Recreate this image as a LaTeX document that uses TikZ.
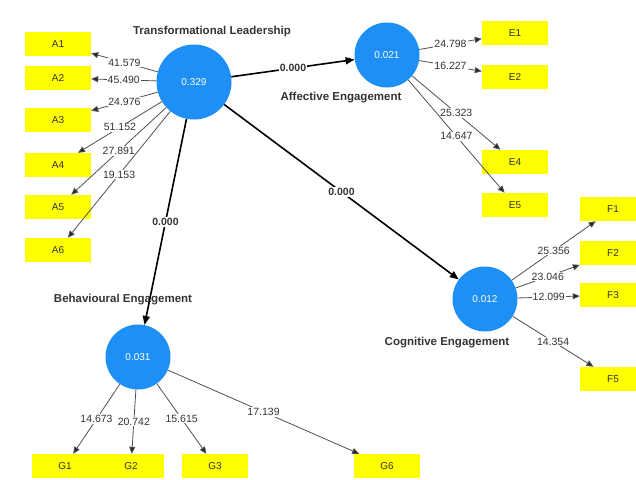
\documentclass[tikz,border=0pt]{standalone}
\usepackage{fontspec}
\setmainfont{Liberation Sans}
\usetikzlibrary{arrows.meta}
\definecolor{PlsBlue}{HTML}{1E8FF5}
\definecolor{PlsYellow}{HTML}{FFFF00}
\definecolor{PlsText}{HTML}{333333}
\definecolor{PlsLine}{HTML}{505050}
\tikzset{
  latent/.style={circle, fill=PlsBlue, minimum size=65pt, inner sep=0pt,
    text=white, font=\fontsize{10}{12}\selectfont},
  indicator/.style={rectangle, fill=PlsYellow, minimum width=66pt,
    minimum height=24pt, inner sep=0pt, text=PlsText,
    font=\fontsize{10}{12}\selectfont},
  lvname/.style={text=PlsText, font=\bfseries\fontsize{11.5}{14}\selectfont},
  weight/.style={fill=white, inner sep=1pt, text=PlsText,
    font=\fontsize{10.5}{12}\selectfont},
  structpath/.style={draw=black, line width=1.6pt,
    -{Triangle[length=9pt,width=7pt]}},
  loading/.style={draw=PlsLine, line width=0.8pt,
    -{Triangle[length=7pt,width=6pt,fill=black!85]}}
}

\begin{document}
\begin{tikzpicture}[x=1pt,y=-1pt]
  \useasboundingbox (0,0) rectangle (636,479);
  \clip (0,0) rectangle (636,479);
  % latent variables with R^2 values
  \node[latent, minimum size=75pt] (transf) at (194,82) {0.329};
  \node[latent] (affect) at (387,55) {0.021};
  \node[latent] (behav) at (138,357) {0.031};
  \node[latent] (cognit) at (485,299) {0.012};
  % latent variable names
  \node[lvname] at (212,32) {Transformational Leadership};
  \node[lvname] at (341,98) {Affective Engagement};
  \node[lvname] at (123,300) {Behavioural Engagement};
  \node[lvname] at (447,343) {Cognitive Engagement};
  % indicators of transformational leadership
  \node[indicator] (A1) at (58,44) {A1};
  \node[indicator] (A2) at (58,78) {A2};
  \node[indicator] (A3) at (58,120) {A3};
  \node[indicator] (A4) at (58,165) {A4};
  \node[indicator] (A5) at (58,207) {A5};
  \node[indicator] (A6) at (58,250) {A6};
  % indicators of affective engagement
  \node[indicator] (E1) at (515,33) {E1};
  \node[indicator] (E2) at (515,77) {E2};
  \node[indicator] (E4) at (515,162) {E4};
  \node[indicator] (E5) at (515,205) {E5};
  % indicators of cognitive engagement (cut by the right edge)
  \node[indicator] (F1) at (613,209) {F1};
  \node[indicator] (F2) at (613,253) {F2};
  \node[indicator] (F3) at (613,295) {F3};
  \node[indicator] (F5) at (613,379) {F5};
  % indicators of behavioural engagement
  \node[indicator] (G1) at (65,466) {G1};
  \node[indicator] (G2) at (131,466) {G2};
  \node[indicator] (G3) at (215,466) {G3};
  \node[indicator] (G6) at (387,466) {G6};
  % structural paths
  \draw[structpath] (transf) -- (affect)
    node[midway, weight, font=\bfseries\fontsize{10.5}{12}\selectfont] {0.000};
  \draw[structpath] (transf) -- (behav)
    node[midway, weight, font=\bfseries\fontsize{10.5}{12}\selectfont] {0.000};
  \draw[structpath] (transf) -- (cognit)
    node[midway, weight, font=\bfseries\fontsize{10.5}{12}\selectfont] {0.000};
  % outer loadings
  \draw[loading] (transf) -- (A1) node[midway, weight] {41.579};
  \draw[loading] (transf) -- (A2) node[midway, weight] {45.490};
  \draw[loading] (transf) -- (A3) node[midway, weight] {24.976};
  \draw[loading] (transf) -- (A4) node[midway, weight] {51.152};
  \draw[loading] (transf) -- (A5) node[midway, weight] {27.891};
  \draw[loading] (transf) -- (A6) node[midway, weight] {19.153};
  \draw[loading] (affect) -- (E1) node[midway, weight] {24.798};
  \draw[loading] (affect) -- (E2) node[midway, weight] {16.227};
  \draw[loading] (affect) -- (E4) node[midway, weight] {25.323};
  \draw[loading] (affect) -- (E5) node[midway, weight] {14.647};
  \draw[loading] (cognit) -- (F1) node[midway, weight] {25.356};
  \draw[loading] (cognit) -- (F2) node[midway, weight] {23.046};
  \draw[loading] (cognit) -- (F3) node[midway, weight] {12.099};
  \draw[loading] (cognit) -- (F5) node[midway, weight] {14.354};
  \draw[loading] (behav) -- (G1) node[midway, weight] {14.673};
  \draw[loading] (behav) -- (G2) node[midway, weight] {20.742};
  \draw[loading] (behav) -- (G3) node[midway, weight] {15.615};
  \draw[loading] (behav) -- (G6) node[midway, weight] {17.139};
\end{tikzpicture}
\end{document}
